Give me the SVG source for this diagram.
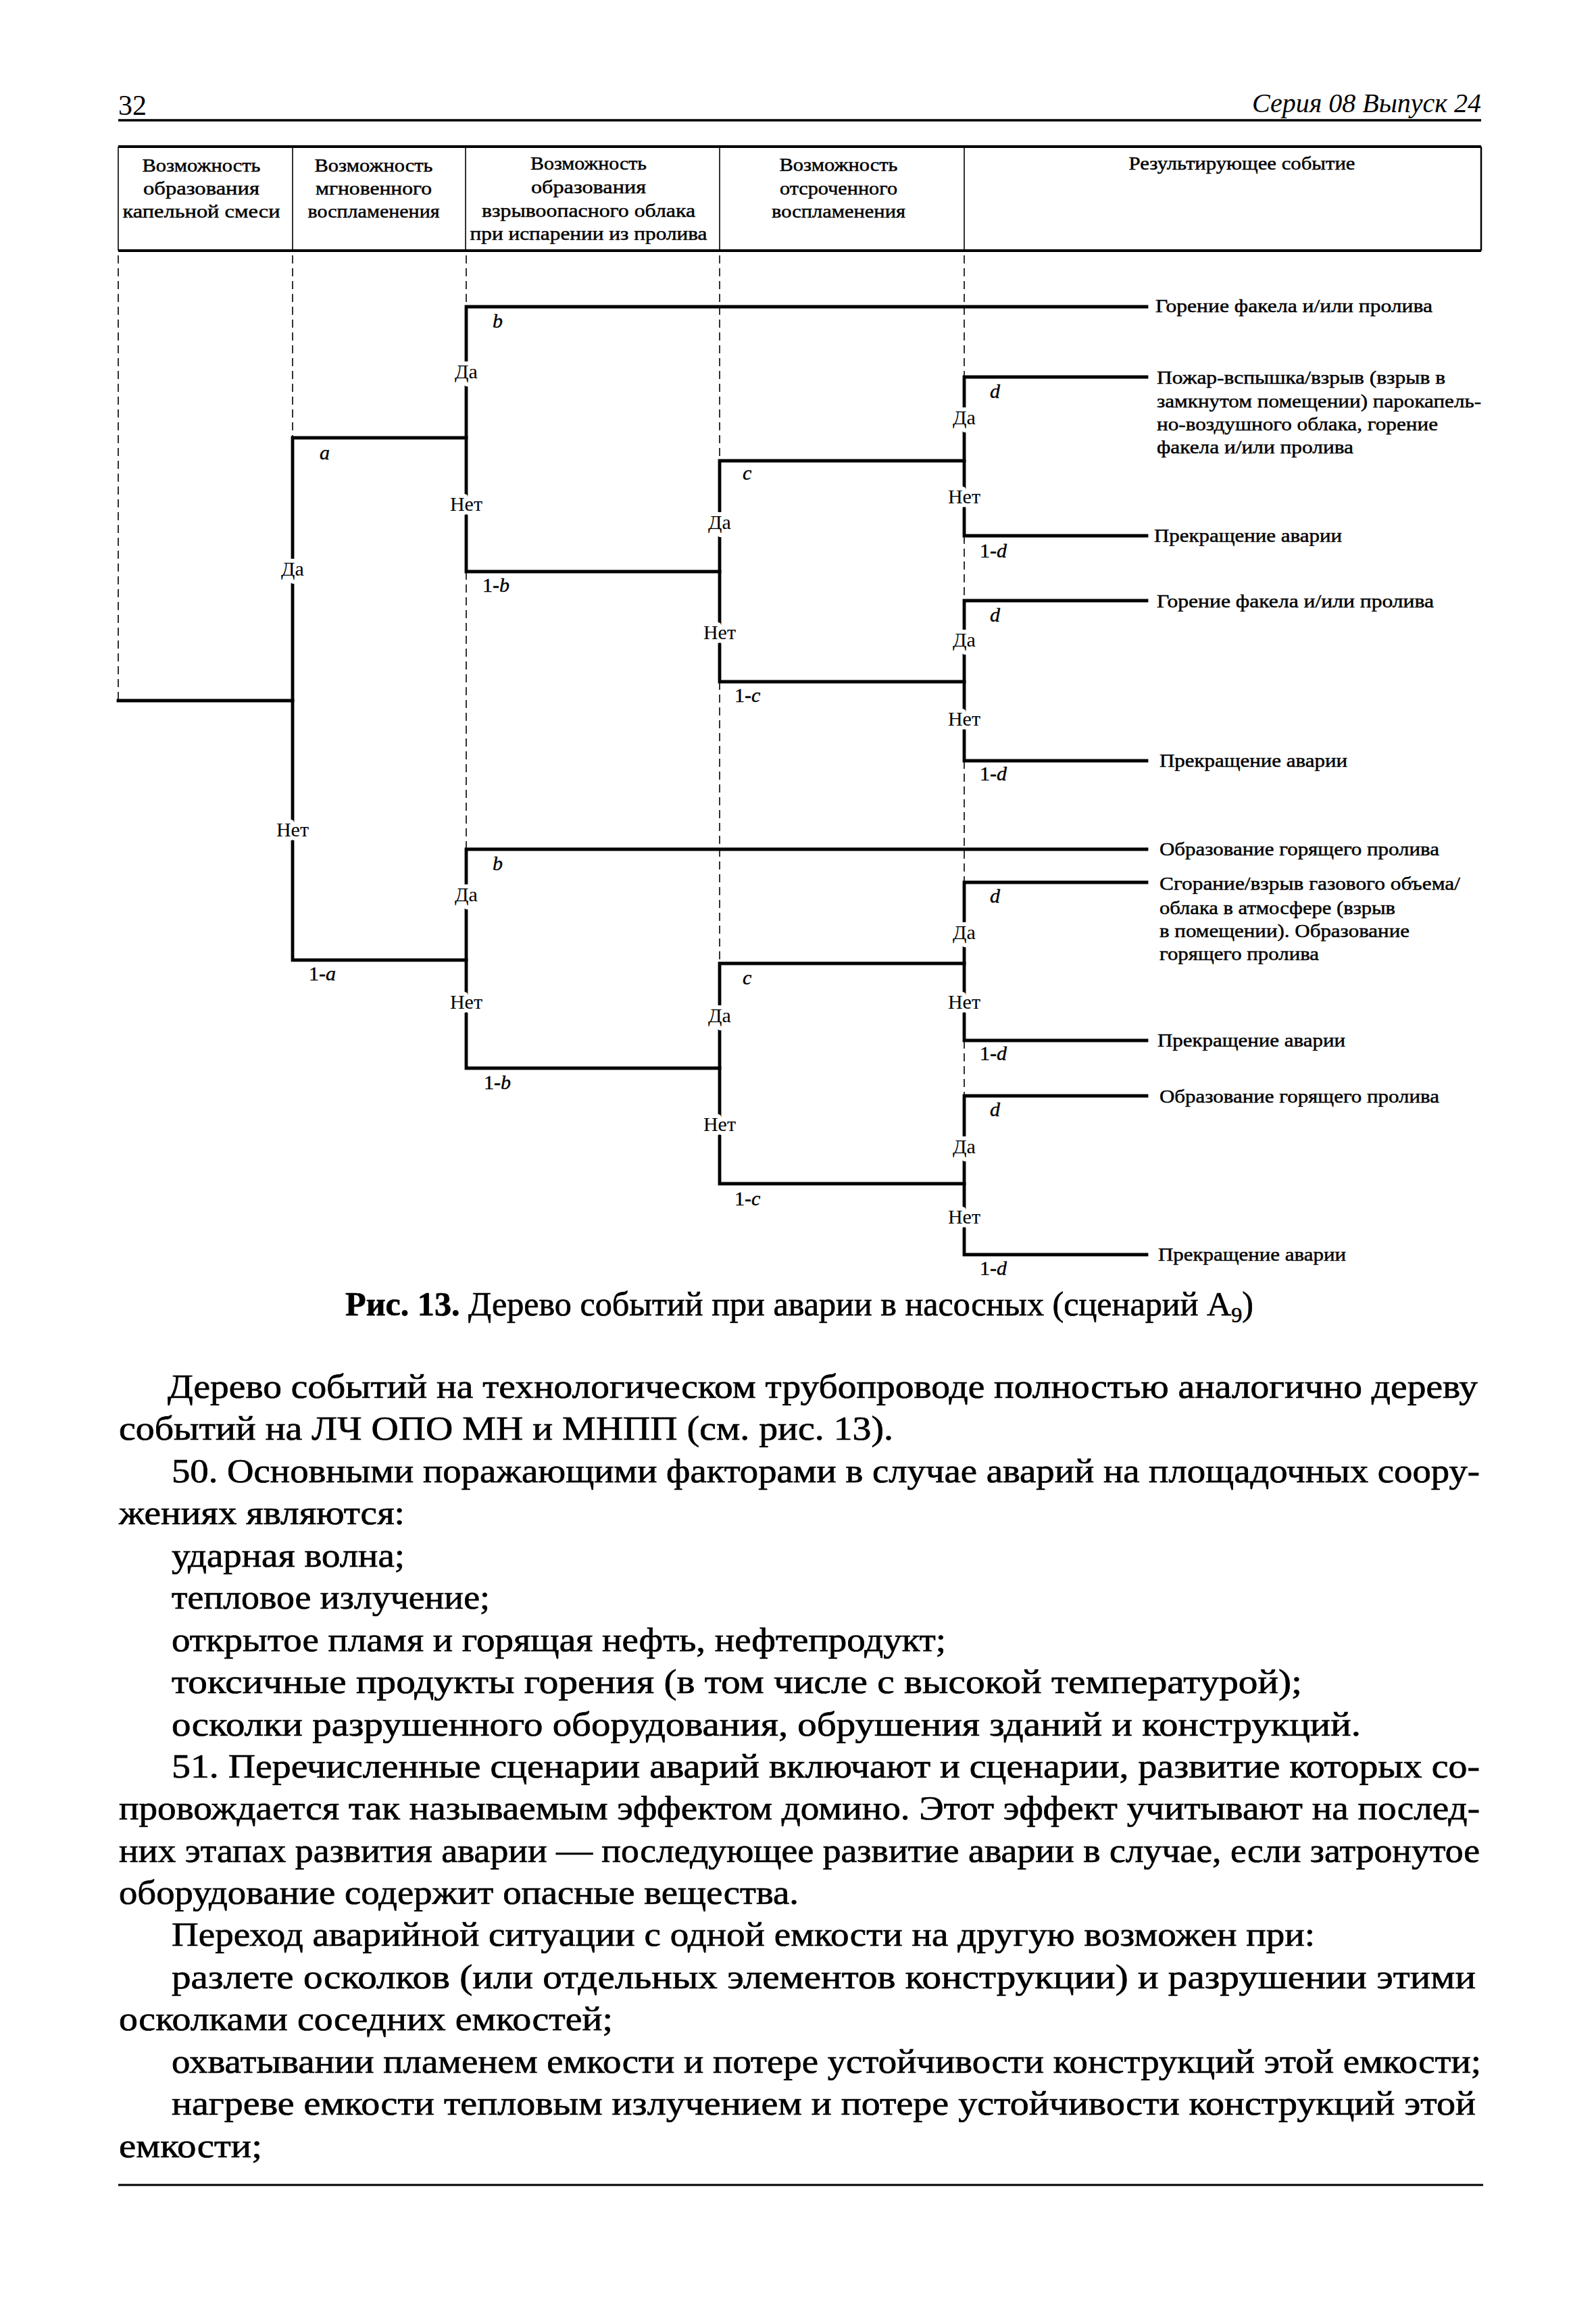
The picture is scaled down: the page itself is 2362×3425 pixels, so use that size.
<svg xmlns="http://www.w3.org/2000/svg" width="2362" height="3425" viewBox="0 0 2362 3425">
<style>
  text { font-family: "Liberation Serif", "Times New Roman", serif; fill: #000; }
  .hd { font-size: 28px; text-anchor: middle; stroke: #000; stroke-width: 0.5px; }
  .out { font-size: 28px; stroke: #000; stroke-width: 0.5px; }
  .lbl { font-size: 30px; text-anchor: middle; stroke: #fff; stroke-width: 12px; paint-order: stroke; stroke-linejoin: round; }
  .p { font-size: 30px; stroke: #000; stroke-width: 0.4px; }
  .it { font-style: italic; }
  .body { font-size: 50px; stroke: #000; stroke-width: 0.7px; }
  .thick { stroke: #000; stroke-width: 4.8; fill: none; stroke-linecap: square; }
  .guide { stroke: #000; stroke-width: 1.6; stroke-dasharray: 12 7; fill: none; }
  .rule { stroke: #000; fill: none; }
</style>
<rect width="2362" height="3425" fill="#fff"/>

<g id="page-header">
  <text x="175" y="170" font-size="42">32</text>
  <text x="2192" y="166" font-size="40" class="it" text-anchor="end" textLength="339" lengthAdjust="spacingAndGlyphs">Серия 08 Выпуск 24</text>
  <line class="rule" x1="175" y1="178" x2="2192" y2="178" stroke-width="3.5"/>
</g>

<g id="table-header">
  <line class="rule" x1="175" y1="217" x2="2192" y2="217" stroke-width="4"/>
  <line class="rule" x1="175" y1="371" x2="2192" y2="371" stroke-width="4"/>
  <line class="rule" x1="175" y1="217" x2="175" y2="371" stroke-width="1.6"/>
  <line class="rule" x1="433" y1="217" x2="433" y2="371" stroke-width="1.6"/>
  <line class="rule" x1="689" y1="217" x2="689" y2="371" stroke-width="1.6"/>
  <line class="rule" x1="1065" y1="217" x2="1065" y2="371" stroke-width="1.6"/>
  <line class="rule" x1="1427" y1="217" x2="1427" y2="371" stroke-width="1.6"/>
  <line class="rule" x1="2192" y1="217" x2="2192" y2="371" stroke-width="2.5"/>
  <g id="col1">
    <text class="hd" x="298" y="254" textLength="175" lengthAdjust="spacingAndGlyphs">Возможность</text>
    <text class="hd" x="298" y="288" textLength="172" lengthAdjust="spacingAndGlyphs">образования</text>
    <text class="hd" x="298" y="322" textLength="233" lengthAdjust="spacingAndGlyphs">капельной смеси</text>
  </g>
  <g id="col2">
    <text class="hd" x="553" y="254" textLength="175" lengthAdjust="spacingAndGlyphs">Возможность</text>
    <text class="hd" x="553" y="288" textLength="172" lengthAdjust="spacingAndGlyphs">мгновенного</text>
    <text class="hd" x="553" y="322" textLength="195" lengthAdjust="spacingAndGlyphs">воспламенения</text>
  </g>
  <g id="col3">
    <text class="hd" x="871" y="251" textLength="172" lengthAdjust="spacingAndGlyphs">Возможность</text>
    <text class="hd" x="871" y="286" textLength="170" lengthAdjust="spacingAndGlyphs">образования</text>
    <text class="hd" x="871" y="321" textLength="316" lengthAdjust="spacingAndGlyphs">взрывоопасного облака</text>
    <text class="hd" x="871" y="355" textLength="351" lengthAdjust="spacingAndGlyphs">при испарении из пролива</text>
  </g>
  <g id="col4">
    <text class="hd" x="1241" y="253" textLength="175" lengthAdjust="spacingAndGlyphs">Возможность</text>
    <text class="hd" x="1241" y="288" textLength="174" lengthAdjust="spacingAndGlyphs">отсроченного</text>
    <text class="hd" x="1241" y="322" textLength="198" lengthAdjust="spacingAndGlyphs">воспламенения</text>
  </g>
  <g id="col5">
    <text class="hd" x="1838" y="251" textLength="335" lengthAdjust="spacingAndGlyphs">Результирующее событие</text>
  </g>
</g>

<g id="guides">
  <line class="guide" x1="175" y1="378" x2="175" y2="1037"/>
  <line class="guide" x1="433" y1="378" x2="433" y2="648"/>
  <line class="guide" x1="690" y1="378" x2="690" y2="454"/>
  <line class="guide" x1="690" y1="846" x2="690" y2="1257"/>
  <line class="guide" x1="1065" y1="378" x2="1065" y2="682"/>
  <line class="guide" x1="1065" y1="1009" x2="1065" y2="1426"/>
  <line class="guide" x1="1427" y1="378" x2="1427" y2="558"/>
  <line class="guide" x1="1427" y1="793" x2="1427" y2="889"/>
  <line class="guide" x1="1427" y1="1126" x2="1427" y2="1306"/>
  <line class="guide" x1="1427" y1="1540" x2="1427" y2="1622"/>
</g>

<g id="connectors">
  <path class="thick" d="M175 1037 H433"/>
  <path class="thick" d="M690 648 H433 V1421 H690"/>
  <path class="thick" d="M1697 454 H690 V846 H1065"/>
  <path class="thick" d="M1427 682 H1065 V1009 H1427"/>
  <path class="thick" d="M1697 558 H1427 V793 H1697"/>
  <path class="thick" d="M1697 889 H1427 V1126 H1697"/>
  <path class="thick" d="M1697 1257 H690 V1581 H1065"/>
  <path class="thick" d="M1427 1426 H1065 V1752 H1427"/>
  <path class="thick" d="M1697 1306 H1427 V1540 H1697"/>
  <path class="thick" d="M1697 1622 H1427 V1857 H1697"/>
</g>

<g id="node-a">
  <text class="p it" x="473" y="680">a</text>
  <text class="lbl" x="433" y="852">Да</text>
  <text class="lbl" x="433" y="1238">Нет</text>
  <text class="p" x="457" y="1451">1-<tspan class="it">a</tspan></text>
</g>
<g id="node-b1">
  <text class="p it" x="729" y="485">b</text>
  <text class="lbl" x="690" y="560">Да</text>
  <text class="lbl" x="690" y="756">Нет</text>
  <text class="p" x="714" y="876">1-<tspan class="it">b</tspan></text>
</g>
<g id="node-c1">
  <text class="p it" x="1099" y="710">c</text>
  <text class="lbl" x="1065" y="783">Да</text>
  <text class="lbl" x="1065" y="946">Нет</text>
  <text class="p" x="1087" y="1039">1-<tspan class="it">c</tspan></text>
</g>
<g id="node-d1">
  <text class="p it" x="1465" y="589">d</text>
  <text class="lbl" x="1427" y="628">Да</text>
  <text class="lbl" x="1427" y="745">Нет</text>
  <text class="p" x="1450" y="825">1-<tspan class="it">d</tspan></text>
</g>
<g id="node-d2">
  <text class="p it" x="1465" y="920">d</text>
  <text class="lbl" x="1427" y="957">Да</text>
  <text class="lbl" x="1427" y="1074">Нет</text>
  <text class="p" x="1450" y="1155">1-<tspan class="it">d</tspan></text>
</g>
<g id="node-b2">
  <text class="p it" x="729" y="1288">b</text>
  <text class="lbl" x="690" y="1334">Да</text>
  <text class="lbl" x="690" y="1493">Нет</text>
  <text class="p" x="716" y="1612">1-<tspan class="it">b</tspan></text>
</g>
<g id="node-c2">
  <text class="p it" x="1099" y="1457">c</text>
  <text class="lbl" x="1065" y="1513">Да</text>
  <text class="lbl" x="1065" y="1674">Нет</text>
  <text class="p" x="1087" y="1784">1-<tspan class="it">c</tspan></text>
</g>
<g id="node-d3">
  <text class="p it" x="1465" y="1336">d</text>
  <text class="lbl" x="1427" y="1390">Да</text>
  <text class="lbl" x="1427" y="1493">Нет</text>
  <text class="p" x="1450" y="1569">1-<tspan class="it">d</tspan></text>
</g>
<g id="node-d4">
  <text class="p it" x="1465" y="1652">d</text>
  <text class="lbl" x="1427" y="1707">Да</text>
  <text class="lbl" x="1427" y="1811">Нет</text>
  <text class="p" x="1450" y="1887">1-<tspan class="it">d</tspan></text>
</g>

<g id="outcome-1"><text class="out" x="1710" y="462" textLength="410" lengthAdjust="spacingAndGlyphs">Горение факела и/или пролива</text></g>
<g id="outcome-2">
  <text class="out" x="1712" y="568" textLength="427" lengthAdjust="spacingAndGlyphs">Пожар-вспышка/взрыв (взрыв в</text>
  <text class="out" x="1712" y="603" textLength="480" lengthAdjust="spacingAndGlyphs">замкнутом помещении) парокапель-</text>
  <text class="out" x="1712" y="637" textLength="416" lengthAdjust="spacingAndGlyphs">но-воздушного облака, горение</text>
  <text class="out" x="1712" y="671" textLength="291" lengthAdjust="spacingAndGlyphs">факела и/или пролива</text>
</g>
<g id="outcome-3"><text class="out" x="1708" y="802" textLength="278" lengthAdjust="spacingAndGlyphs">Прекращение аварии</text></g>
<g id="outcome-4"><text class="out" x="1712" y="899" textLength="410" lengthAdjust="spacingAndGlyphs">Горение факела и/или пролива</text></g>
<g id="outcome-5"><text class="out" x="1716" y="1135" textLength="278" lengthAdjust="spacingAndGlyphs">Прекращение аварии</text></g>
<g id="outcome-6"><text class="out" x="1716" y="1266" textLength="414" lengthAdjust="spacingAndGlyphs">Образование горящего пролива</text></g>
<g id="outcome-7">
  <text class="out" x="1716" y="1317" textLength="445" lengthAdjust="spacingAndGlyphs">Сгорание/взрыв газового объема/</text>
  <text class="out" x="1716" y="1353" textLength="349" lengthAdjust="spacingAndGlyphs">облака в атмосфере (взрыв</text>
  <text class="out" x="1716" y="1387" textLength="370" lengthAdjust="spacingAndGlyphs">в помещении). Образование</text>
  <text class="out" x="1716" y="1421" textLength="236" lengthAdjust="spacingAndGlyphs">горящего пролива</text>
</g>
<g id="outcome-8"><text class="out" x="1713" y="1549" textLength="278" lengthAdjust="spacingAndGlyphs">Прекращение аварии</text></g>
<g id="outcome-9"><text class="out" x="1716" y="1632" textLength="414" lengthAdjust="spacingAndGlyphs">Образование горящего пролива</text></g>
<g id="outcome-10"><text class="out" x="1714" y="1866" textLength="278" lengthAdjust="spacingAndGlyphs">Прекращение аварии</text></g>

<g id="caption">
  <text class="body" x="511" y="1947" textLength="1344" lengthAdjust="spacingAndGlyphs"><tspan font-weight="bold">Рис. 13.</tspan> Дерево событий при аварии в насосных (сценарий A<tspan font-size="32" dy="10">9</tspan><tspan dy="-10">)</tspan></text>
</g>

<g id="body-text">
  <text class="body" x="248" y="2069" textLength="1939" lengthAdjust="spacingAndGlyphs">Дерево событий на технологическом трубопроводе полностью аналогично дереву</text>
  <text class="body" x="176" y="2131" textLength="1146" lengthAdjust="spacingAndGlyphs">событий на ЛЧ ОПО МН и МНПП (см. рис. 13).</text>
  <text class="body" x="254" y="2194" textLength="1936" lengthAdjust="spacingAndGlyphs">50. Основными поражающими факторами в случае аварий на площадочных соору-</text>
  <text class="body" x="176" y="2256" textLength="423" lengthAdjust="spacingAndGlyphs">жениях являются:</text>
  <text class="body" x="254" y="2319" textLength="345" lengthAdjust="spacingAndGlyphs">ударная волна;</text>
  <text class="body" x="254" y="2381" textLength="471" lengthAdjust="spacingAndGlyphs">тепловое излучение;</text>
  <text class="body" x="254" y="2444" textLength="1146" lengthAdjust="spacingAndGlyphs">открытое пламя и горящая нефть, нефтепродукт;</text>
  <text class="body" x="254" y="2506" textLength="1673" lengthAdjust="spacingAndGlyphs">токсичные продукты горения (в том числе с высокой температурой);</text>
  <text class="body" x="254" y="2569" textLength="1760" lengthAdjust="spacingAndGlyphs">осколки разрушенного оборудования, обрушения зданий и конструкций.</text>
  <text class="body" x="254" y="2631" textLength="1936" lengthAdjust="spacingAndGlyphs">51. Перечисленные сценарии аварий включают и сценарии, развитие которых со-</text>
  <text class="body" x="176" y="2693" textLength="2014" lengthAdjust="spacingAndGlyphs">провождается так называемым эффектом домино. Этот эффект учитывают на послед-</text>
  <text class="body" x="176" y="2756" textLength="2014" lengthAdjust="spacingAndGlyphs">них этапах развития аварии — последующее развитие аварии в случае, если затронутое</text>
  <text class="body" x="176" y="2818" textLength="1006" lengthAdjust="spacingAndGlyphs">оборудование содержит опасные вещества.</text>
  <text class="body" x="254" y="2880" textLength="1692" lengthAdjust="spacingAndGlyphs">Переход аварийной ситуации с одной емкости на другую возможен при:</text>
  <text class="body" x="254" y="2943" textLength="1930" lengthAdjust="spacingAndGlyphs">разлете осколков (или отдельных элементов конструкции) и разрушении этими</text>
  <text class="body" x="176" y="3005" textLength="731" lengthAdjust="spacingAndGlyphs">осколками соседних емкостей;</text>
  <text class="body" x="254" y="3068" textLength="1938" lengthAdjust="spacingAndGlyphs">охватывании пламенем емкости и потере устойчивости конструкций этой емкости;</text>
  <text class="body" x="254" y="3130" textLength="1930" lengthAdjust="spacingAndGlyphs">нагреве емкости тепловым излучением и потере устойчивости конструкций этой</text>
  <text class="body" x="176" y="3193" textLength="212" lengthAdjust="spacingAndGlyphs">емкости;</text>
</g>

<g id="page-footer">
  <line class="rule" x1="175" y1="3234" x2="2195" y2="3234" stroke-width="3"/>
</g>
</svg>
